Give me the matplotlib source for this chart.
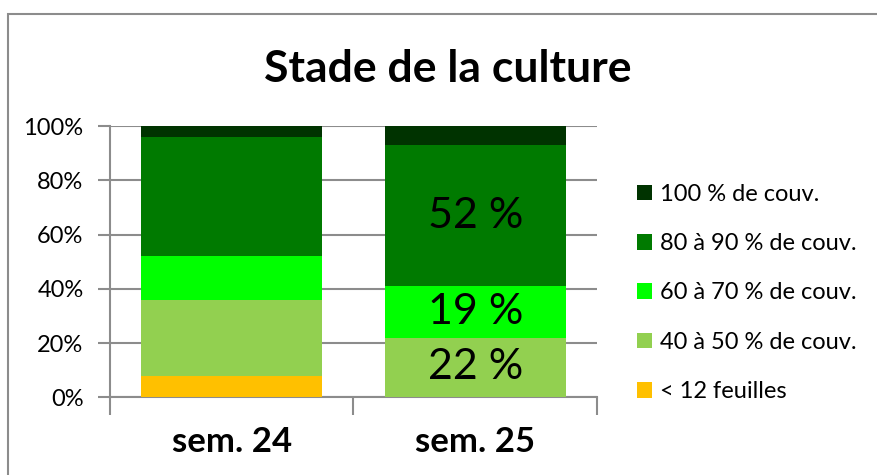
import matplotlib
matplotlib.use("Agg")
import matplotlib.pyplot as plt
from matplotlib.patches import Rectangle, Patch

# ---- data (percent of surveyed plots) ----
weeks = ["sem. 24", "sem. 25"]
stages = ["< 12 feuilles", "40 à 50 % de couv.", "60 à 70 % de couv.",
          "80 à 90 % de couv.", "100 % de couv."]
lt12 = [8, 0]
couv_40_50 = [28, 22]
couv_60_70 = [16, 19]
couv_80_90 = [44, 52]
couv_100 = [4, 7]
# data labels shown in the original (only on sem. 25)
labels_40_50 = ["", "22 %"]
labels_60_70 = ["", "19 %"]
labels_80_90 = ["", "52 %"]

colors = ["#FFC000", "#92D050", "#00FF00", "#007A00", "#003300"]
series = [lt12, couv_40_50, couv_60_70, couv_80_90, couv_100]
series_labels = [None, labels_40_50, labels_60_70, labels_80_90, None]

FONT = "Lato"
GRID = "#8c8c8c"

fig = plt.figure(figsize=(8.77, 4.75), dpi=100)
# chart-area frame (right and bottom edges fall outside the crop)
fig.patches.append(Rectangle((0.0086, -0.1), 1.2, 1.0705, transform=fig.transFigure,
                             fill=False, edgecolor="#8c8c8c", lw=1.5))

ax = fig.add_axes([0.1254, 0.1636, 0.5553, 0.5711])
x = list(range(len(weeks)))
bottom = [0.0] * len(weeks)
for vals, col, name, labs in zip(series, colors, stages, series_labels):
    bars = ax.bar(x, vals, width=0.745, bottom=bottom, color=col,
                  edgecolor="none", label=name, zorder=3)
    if labs is not None:
        ax.bar_label(bars, labels=labs, label_type="center", fontsize=31,
                     family=FONT, color="black")
    bottom = [b + v for b, v in zip(bottom, vals)]

ax.set_xlim(-0.5, 1.5)
ax.set_ylim(0, 100)
ax.set_yticks([0, 20, 40, 60, 80, 100])
ax.set_yticklabels([f"{v}%" for v in [0, 20, 40, 60, 80, 100]],
                   fontsize=17, family=FONT)
ax.yaxis.grid(True, color=GRID, lw=1.5, zorder=0)
ax.tick_params(axis="y", length=9, width=1.5, color=GRID, pad=10)

# category boundaries carry the tick marks, centres carry the labels
ax.set_xticks([-0.5, 0.5, 1.5])
ax.set_xticklabels(["", "", ""])
ax.tick_params(axis="x", which="major", length=13, width=1.5, color=GRID)
ax.set_xticks(x, minor=True)
ax.set_xticklabels(weeks, minor=True, fontsize=25, fontweight="bold", family=FONT)
ax.tick_params(axis="x", which="minor", length=0, pad=21)

for s in ["top", "right"]:
    ax.spines[s].set_visible(False)
for s in ["left", "bottom"]:
    ax.spines[s].set_color(GRID)
    ax.spines[s].set_linewidth(1.5)

fig.text(0.511, 0.855, "Stade de la culture", ha="center", va="center",
         fontsize=32, fontweight="bold", family=FONT)

handles = [Patch(facecolor=c, edgecolor="none") for c in colors][::-1]
fig.legend(handles, stages[::-1], loc="upper left", bbox_to_anchor=(0.726, 0.613),
           frameon=False, prop={"family": FONT, "size": 17}, handlelength=0.65,
           handleheight=0.65, handletextpad=0.35, labelspacing=1.2,
           borderaxespad=0, borderpad=0)

fig.savefig("out.png", dpi=100)
